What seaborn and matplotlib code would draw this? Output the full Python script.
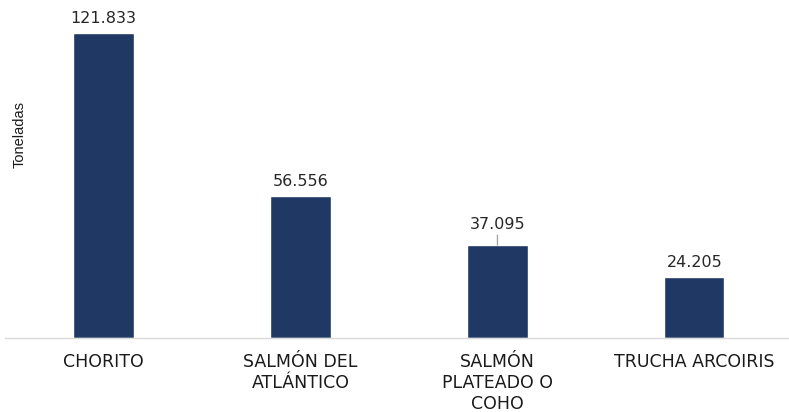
import matplotlib
matplotlib.use("Agg")
import matplotlib.pyplot as plt
import seaborn as sns
import pandas as pd

categories = ["CHORITO", "SALMÓN DEL\nATLÁNTICO", "SALMÓN\nPLATEADO O\nCOHO", "TRUCHA ARCOIRIS"]
values = [121833, 56556, 37095, 24205]
value_labels = ["121.833", "56.556", "37.095", "24.205"]

df = pd.DataFrame({"especie": categories, "toneladas": values})

sns.set_theme(style="white")
plt.rcParams['font.family'] = ['DejaVu Sans']

fig = plt.figure(figsize=(7.89, 4.12), dpi=100)
ax = fig.add_axes([5/789, 74/412, 784/789, 333/412])

sns.barplot(data=df, x="especie", y="toneladas", color="#203864", width=0.305,
            saturation=1, ax=ax)

ax.set_xlim(-0.5, 3.48)
ax.set_ylim(0, 133000)

for i, (v, lab) in enumerate(zip(values, value_labels)):
    if i == 2:
        ax.annotate(lab, xy=(i, v), xytext=(0, 9.5), textcoords="offset points",
                    ha="center", va="bottom", fontsize=11.5, color="#262626",
                    arrowprops=dict(arrowstyle="-", color="#a6a6a6", lw=1,
                                    shrinkA=0, shrinkB=0))
    else:
        ax.annotate(lab, xy=(i, v), xytext=(0, 5), textcoords="offset points",
                    ha="center", va="bottom", fontsize=11.5, color="#262626")

for s in ["top", "right", "left"]:
    ax.spines[s].set_visible(False)
ax.spines["bottom"].set_color("#d9d9d9")
ax.spines["bottom"].set_linewidth(1)

ax.set_yticks([])
ax.set_xlabel("")
ax.set_ylabel("")
ax.tick_params(axis="x", length=0, pad=11, labelsize=12.5, colors="#1a1a1a")
for t in ax.get_xticklabels():
    t.set_linespacing(1.22)
    t.set_verticalalignment("top")

fig.text(13/789, 1 - 135/412, "Toneladas", rotation=90, ha="left", va="center",
         fontsize=10.5, color="#1a1a1a", family="Liberation Sans")

fig.savefig("out.png", dpi=100)
